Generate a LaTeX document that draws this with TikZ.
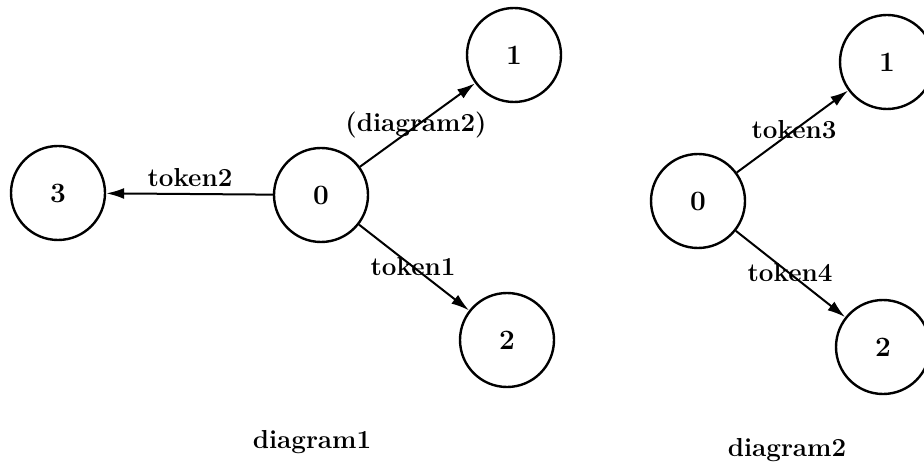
\documentclass[tikz,border=0pt]{standalone}
\usetikzlibrary{arrows.meta}
\begin{document}
\begin{tikzpicture}[x=0.5pt,y=-0.5pt,
  state/.style={circle,draw,line width=1.2pt,minimum size=47pt,inner sep=0pt,font=\fontsize{14}{16}\selectfont\bfseries},
  lbl/.style={font=\fontsize{13}{15}\selectfont\bfseries,inner sep=1pt},
  trans/.style={line width=1pt,-{Latex[length=9pt,width=5.5pt]}}]
\useasboundingbox (0,0) rectangle (924,464);
% diagram 1
\node[state] (a0) at (321,195) {0};
\node[state] (a1) at (514,55) {1};
\node[state] (a2) at (507,340) {2};
\node[state] (a3) at (58,193) {3};
\draw[trans] (a0) -- (a1);
\draw[trans] (a0) -- (a2);
\draw[trans] (a0) -- (a3);
\node[lbl] (l2) at (190,178) {token2};
\node[lbl] (ld) at (416,125) {(diagram2)};
\node[lbl] (l1) at (413,267) {token1};
\node[lbl] (n1) at (312,442) {diagram1};
% diagram 2
\node[state] (b0) at (698,201) {0};
\node[state] (b1) at (887,62) {1};
\node[state] (b2) at (883,347) {2};
\draw[trans] (b0) -- (b1);
\draw[trans] (b0) -- (b2);
\node[lbl] (l3) at (794,130) {token3};
\node[lbl] (l4) at (790,273) {token4};
\node[lbl] (n2) at (787,450) {diagram2};
\end{tikzpicture}
\end{document}
